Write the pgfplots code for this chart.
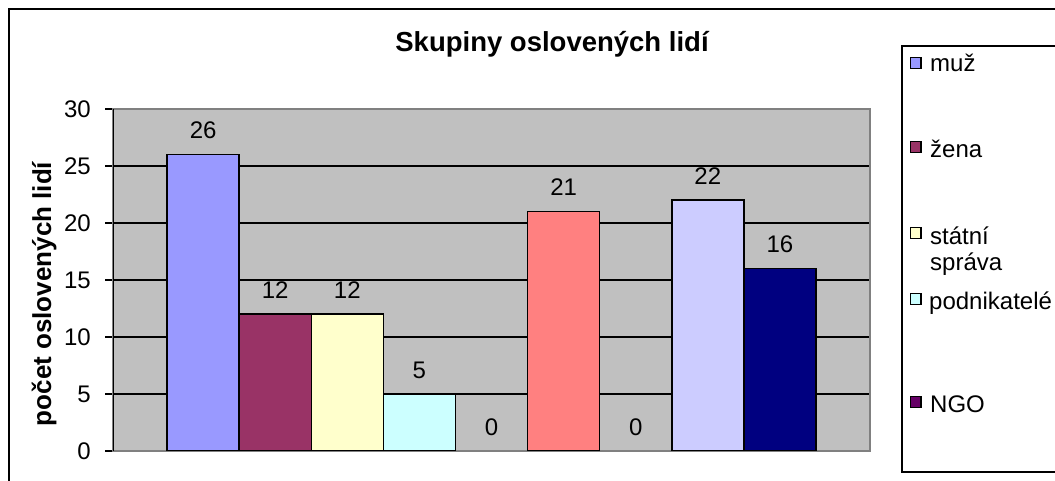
\documentclass[border=0pt]{standalone}
\usepackage{fontspec}
\setmainfont{Liberation Sans}
\usepackage{pgfplots}
\pgfplotsset{compat=1.18}
\definecolor{c1}{HTML}{9999FF}
\definecolor{c2}{HTML}{993366}
\definecolor{c3}{HTML}{FFFFCC}
\definecolor{c4}{HTML}{CCFFFF}
\definecolor{c5}{HTML}{660066}
\definecolor{c6}{HTML}{FF8080}
\definecolor{c7}{HTML}{0066CC}
\definecolor{c8}{HTML}{CCCCFF}
\definecolor{c9}{HTML}{000080}
\definecolor{plotgray}{HTML}{C0C0C0}
\definecolor{bordergray}{HTML}{808080}
\newcommand{\fs}{\fontsize{24bp}{28bp}\selectfont}
\newcommand{\fl}{\fontsize{24bp}{28bp}\selectfont}
\begin{document}
\begin{tikzpicture}
\useasboundingbox (0,0) rectangle (1055bp,481bp);
\begin{axis}[
  at={(113bp,30bp)}, anchor=south west,
  scale only axis, width=757bp, height=342bp,
  xmin=-1.25, xmax=9.25, ymin=0, ymax=30,
  ybar, bar width=1, bar shift=0pt,
  xtick=\empty, ytick={0,5,...,30},
  ymajorgrids, major grid style={black, line width=1.3bp},
  axis background/.style={fill=plotgray},
  axis line style={draw=bordergray, line width=2bp},
  tick align=outside, ytick pos=left, major tick length=8bp,
  ytick style={black, line width=1.3bp},
  tick label style={font=\fs},
  yticklabel style={anchor=east, inner sep=0pt, xshift=-14bp},
  /pgf/number format/assume math mode=true,
  nodes near coords,
  nodes near coords style={font=\fs, anchor=south, inner sep=0pt, yshift=15bp, text=black},
  bb/.style={fill=#1, draw=black, line width=1.5bp, bar shift=0pt},
  zb/.style={draw=none, fill=none, bar shift=0pt},
]
\addplot[bb=c1] coordinates {(0,26)};
\addplot[bb=c2] coordinates {(1,12)};
\addplot[bb=c3] coordinates {(2,12)};
\addplot[bb=c4] coordinates {(3,5)};
\addplot[zb] coordinates {(4,0)};
\addplot[bb=c6] coordinates {(5,21)};
\addplot[zb] coordinates {(6,0)};
\addplot[bb=c8] coordinates {(7,22)};
\addplot[bb=c9] coordinates {(8,16)};
\draw[black, line width=2bp] (rel axis cs:0,0) -- (rel axis cs:0,1);
\end{axis}
% outer chart frame
\draw[black, line width=2bp] (9bp,-10bp) -- (9bp,472bp) -- (1080bp,472bp);
% title
\node[anchor=base, font=\fontsize{27.5bp}{32bp}\selectfont\bfseries] at (552bp,429bp) {Skupiny oslovených lidí};
% y label
\node[rotate=90, font=\fontsize{26bp}{30bp}\selectfont\bfseries] at (44bp,187bp) {počet oslovených lidí};
% legend
\draw[black, line width=2bp] (1080bp,435bp) -- (902bp,435bp) -- (902bp,9bp) -- (1080bp,9bp);
\foreach \c/\y in {c1/418, c2/334, c3/248, c4/182, c5/79}{
  \filldraw[fill=\c, draw=black, line width=1.3bp] (910.5bp,\y bp-5.5bp) rectangle (921bp,\y bp+5.5bp);
}
\node[anchor=base west, inner sep=0pt, font=\fl] at (930bp,409bp) {muž};
\node[anchor=base west, inner sep=0pt, font=\fl] at (930bp,323bp) {žena};
\node[anchor=base west, inner sep=0pt, font=\fl] at (930bp,236bp) {státní};
\node[anchor=base west, inner sep=0pt, font=\fl] at (930bp,210bp) {správa};
\node[anchor=base west, inner sep=0pt, font=\fl] at (929bp,171bp) {podnikatelé};
\node[anchor=base west, inner sep=0pt, font=\fl] at (930bp,68bp) {NGO};
\end{tikzpicture}
\end{document}
